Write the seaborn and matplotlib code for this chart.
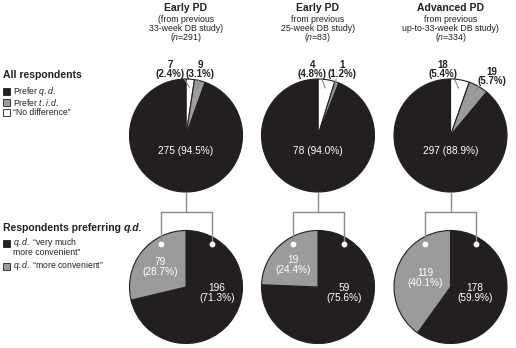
import matplotlib
matplotlib.use("Agg")
import matplotlib.pyplot as plt
import seaborn as sns
import numpy as np

# ---------------- data ----------------
groups = ["Early PD", "Early PD", "Advanced PD"]
subtitles = [["(from previous", "33-week DB study)"],
             ["from previous", "25-week DB study)"],
             ["from previous", "up-to-33-week DB study)"]]
n_values = [291, 83, 334]

# all respondents: no difference, prefer t.i.d., prefer q.d.
no_diff = [7, 4, 18]
no_diff_pct = [2.4, 4.8, 5.4]
prefer_tid = [9, 1, 19]
prefer_tid_pct = [3.1, 1.2, 5.7]
prefer_qd = [275, 78, 297]
prefer_qd_pct = [94.5, 94.0, 88.9]

# respondents preferring q.d.
very_much = [196, 59, 178]
very_much_pct = [71.3, 75.6, 59.9]
more_conv = [79, 19, 119]
more_conv_pct = [28.7, 24.4, 40.1]

# ---------------- style ----------------
sns.set_theme(style="white")
plt.rcParams["font.family"] = ["Liberation Sans", "DejaVu Sans"]
plt.rcParams["mathtext.fontset"] = "custom"
plt.rcParams["mathtext.rm"] = "Liberation Sans"
plt.rcParams["mathtext.it"] = "Liberation Sans:italic"
plt.rcParams["mathtext.bf"] = "Liberation Sans:bold"

BLACK = "#231f20"
GREY = "#9b9b9b"
WHITE = "#ffffff"
LINE = "#8a8a8a"
LQ, RQ = "\u201c", "\u201d"

W, H = 516, 348
fig = plt.figure(figsize=(W / 100, H / 100), dpi=100)
ax = fig.add_axes([0, 0, 1, 1])

def Y(y):
    return H - y

centers_x = [186, 318, 450.5]
top_cy = 135.5
bot_cy = 287
R = 56.5

for i, cx in enumerate(centers_x):
    # headings
    ax.text(cx, Y(8), groups[i], ha="center", va="center", fontsize=7.5,
            fontweight="bold", color=BLACK)
    ax.text(cx, Y(19), subtitles[i][0], ha="center", va="center", fontsize=6.3, color=BLACK)
    ax.text(cx, Y(28.5), subtitles[i][1], ha="center", va="center", fontsize=6.3, color=BLACK)
    ax.text(cx, Y(38), "($\\it{n}$=%d)" % n_values[i], ha="center", va="center",
            fontsize=6.3, color=BLACK)

    # top pie
    wedges, _ = ax.pie([no_diff[i], prefer_tid[i], prefer_qd[i]],
                       colors=[WHITE, GREY, BLACK], startangle=90, counterclock=False,
                       center=(cx, Y(top_cy)), radius=R,
                       wedgeprops=dict(edgecolor=BLACK, linewidth=0.8))
    ax.text(cx, Y(top_cy + 16), f"{prefer_qd[i]} ({prefer_qd_pct[i]:.1f}%)",
            ha="center", va="center", fontsize=7.3, color="white")

    # small slice labels with leader lines
    small = [(no_diff[i], no_diff_pct[i], wedges[0]), (prefer_tid[i], prefer_tid_pct[i], wedges[1])]
    label_offsets = [[(-16, 0), (14.5, 0)], [(-5.5, 0), (24, 0)], [(-7.5, 0), (41.5, 7)]][i]
    for (val, pct, w), (dx, dy) in zip(small, label_offsets):
        mid = np.deg2rad((w.theta1 + w.theta2) / 2)
        tx, ty = cx + dx, 65 + dy
        ax.text(tx, Y(ty), f"{val}", ha="center", va="center", fontsize=7.0,
                fontweight="bold", color=BLACK)
        ax.text(tx, Y(ty + 9), f"({pct:.1f}%)", ha="center", va="center", fontsize=7.0,
                fontweight="bold", color=BLACK)
        ex = cx + 0.85 * R * np.cos(mid)
        ey = top_cy - 0.85 * R * np.sin(mid)
        sx = ex + (tx - ex) * 0.25
        sy = ty + 14.5
        ax.plot([sx, ex], [Y(sy), Y(ey)], color=LINE, lw=0.8, zorder=5)

    # bracket
    ax.plot([cx, cx], [Y(top_cy + R), Y(211.5)], color=LINE, lw=1, solid_capstyle="butt")
    ax.plot([cx - 25.5, cx + 25.5], [Y(211.5), Y(211.5)], color=LINE, lw=1)
    for sx in (cx - 25.5, cx + 25.5):
        ax.plot([sx, sx], [Y(211.5), Y(244)], color=LINE, lw=1, zorder=5)
        ax.plot([sx], [Y(244)], marker="o", ms=3.2, mfc="white", mec="white", zorder=6)

    # bottom pie
    ax.pie([very_much[i], more_conv[i]], colors=[BLACK, GREY], startangle=90,
           counterclock=False, center=(cx, Y(bot_cy)), radius=R,
           wedgeprops=dict(edgecolor=BLACK, linewidth=0.8))
    off_b = [(31, 6), (26, 6), (24.5, 6)][i]
    off_g = [(-26, -20), (-25, -22), (-25.5, -9.5)][i]
    ax.text(cx + off_b[0], Y(bot_cy + off_b[1]), f"{very_much[i]}\n({very_much_pct[i]:.1f}%)",
            ha="center", va="center", fontsize=7.3, color="white", linespacing=1.0)
    ax.text(cx + off_g[0], Y(bot_cy + off_g[1]), f"{more_conv[i]}\n({more_conv_pct[i]:.1f}%)",
            ha="center", va="center", fontsize=7.3, color="white", linespacing=1.0)

# ---------------- legends ----------------
def square(x, y, color):
    ax.add_patch(plt.Rectangle((x, Y(y + 3.5)), 7, 7, facecolor=color,
                               edgecolor=BLACK, linewidth=0.6))

ax.text(3, Y(75), "All respondents", ha="left", va="center", fontsize=7.5,
        fontweight="bold", color=BLACK)
legend1 = [(BLACK, "Prefer $\\it{q.d.}$"), (GREY, "Prefer $\\it{t.i.d.}$"),
           (WHITE, LQ + "No difference" + RQ)]
for k, (c, lab) in enumerate(legend1):
    yy = 91.5 + 10.5 * k
    square(3, yy, c)
    ax.text(13, Y(yy), lab, ha="left", va="center", fontsize=6.2, color=BLACK)

t = ax.text(3, Y(228), "Respondents preferring ", ha="left", va="center", fontsize=7.5,
            fontweight="bold", color=BLACK)
ax.annotate("q.d.", xy=(1, 0), xycoords=t, ha="left", va="bottom", fontsize=7.5,
            fontweight="bold", fontstyle="italic", color=BLACK)
square(3, 243, BLACK)
ax.text(13, Y(242.5), "$\\it{q.d.}$ " + LQ + "very much", ha="left", va="center",
        fontsize=6.2, color=BLACK)
ax.text(13, Y(252.5), "more convenient" + RQ, ha="left", va="center", fontsize=6.2, color=BLACK)
square(3, 266, GREY)
ax.text(13, Y(266), "$\\it{q.d.}$ " + LQ + "more convenient" + RQ, ha="left", va="center",
        fontsize=6.2, color=BLACK)

ax.set_xlim(0, W)
ax.set_ylim(0, H)
ax.set_aspect("auto")
ax.axis("off")
fig.savefig("out.png", dpi=100)
